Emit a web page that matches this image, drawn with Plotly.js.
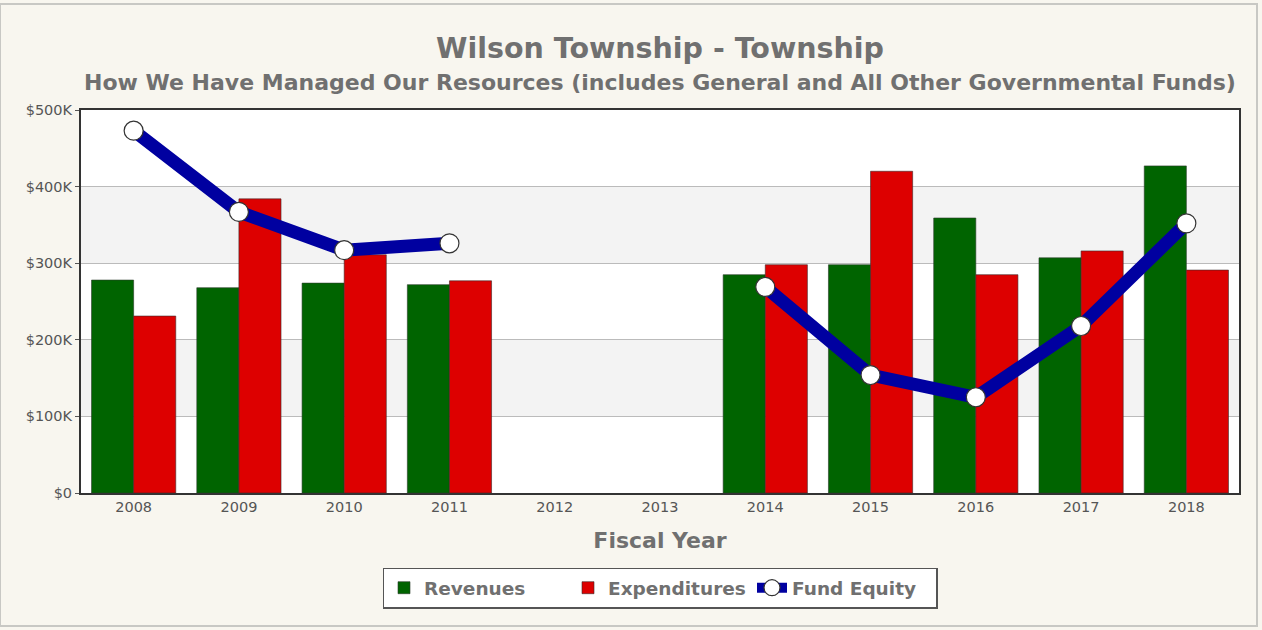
<!DOCTYPE html>
<html>
<head>
<meta charset="utf-8">
<script src="https://cdn.plot.ly/plotly-3.0.1.min.js"></script>
<style>html,body{margin:0;padding:0;background:#f8f6ef;}</style>
</head>
<body>
<div id="chart" style="width:1262px;height:630px;"></div>
<script>
const years = ['2008','2009','2010','2011','2012','2013','2014','2015','2016','2017','2018'];
const revenues = [278000, 268000, 274000, 272000, null, null, 285000, 298000, 359000, 307000, 427000];
const expenditures = [231000, 384000, 311000, 277000, null, null, 298000, 420000, 285000, 316000, 291000];
const fundEquity = [473000, 367000, 317000, 326000, null, null, 269000, 154000, 125000, 218000, 352000];
const tickVals = [0, 100000, 200000, 300000, 400000, 500000];
const tickText = ['$0', '$100K', '$200K', '$300K', '$400K', '$500K'];

const font = 'DejaVu Sans, sans-serif';
const traces = [
  {type:'bar', name:'Revenues', x:years, y:revenues,
   marker:{color:'#006400', line:{color:'#2a3a2a', width:0.6}}},
  {type:'bar', name:'Expenditures', x:years, y:expenditures,
   marker:{color:'#dd0000', line:{color:'#3a2a2a', width:0.6}}},
  {type:'scatter', mode:'lines+markers', name:'Fund Equity', x:years, y:fundEquity,
   connectgaps:false,
   line:{color:'#0000a0', width:13},
   marker:{color:'#ffffff', size:19, line:{color:'#333333', width:1.2}}}
];

const shapes = [
  {type:'rect', xref:'paper', yref:'y', x0:0, x1:1, y0:100000, y1:200000, fillcolor:'#f3f3f3', line:{width:0}, layer:'below'},
  {type:'rect', xref:'paper', yref:'y', x0:0, x1:1, y0:300000, y1:400000, fillcolor:'#f3f3f3', line:{width:0}, layer:'below'},
  {type:'rect', xref:'paper', yref:'paper', x0:-81/1158, x1:(1262-81-5)/1158, y0:(493-626)/383, y1:(493-4)/383,
   fillcolor:'rgba(0,0,0,0)', line:{color:'#c8c8c4', width:2}, layer:'below'}
];

const layout = {
  width:1262, height:630,
  paper_bgcolor:'#f8f6ef', plot_bgcolor:'#ffffff',
  margin:{l:81, r:23, t:110, b:137},
  barmode:'group', bargap:0.2, bargroupgap:0,
  font:{family:font, color:'#666666'},
  showlegend:true,
  legend:{orientation:'h', x:0.5, xanchor:'center', y:-0.195, yanchor:'top',
    bgcolor:'#ffffff', bordercolor:'#555555', borderwidth:1.5,
    font:{family:font, size:18.5, color:'#707070', weight:'bold'},
    itemwidth:30, entrywidth:139, entrywidthmode:'pixels', traceorder:'normal'},
  xaxis:{type:'category', range:[-0.5, 10.5], showline:true, linecolor:'#333333', linewidth:2, mirror:true,
    ticks:'', tickfont:{size:14.5, color:'#555555'},
    title:{text:'Fiscal Year', font:{size:22, color:'#707070', weight:'bold'}, standoff:18},
    showgrid:false, zeroline:false},
  yaxis:{range:[0,500000], tickvals:tickVals, ticktext:tickText,
    showline:true, linecolor:'#333333', linewidth:2, mirror:true,
    ticks:'outside', ticklen:4, tickcolor:'#555555',
    tickfont:{size:14.5, color:'#555555'},
    showgrid:true, gridcolor:'#bbbbbb', gridwidth:1, zeroline:false},
  shapes:shapes,
  annotations:[
    {xref:'paper', yref:'paper', x:0.5, y:(493-48)/383, xanchor:'center', yanchor:'middle', showarrow:false,
     text:'<b>Wilson Township - Township</b>', font:{family:font, size:28.5, color:'#707070'}},
    {xref:'paper', yref:'paper', x:0.5, y:(493-82)/383, xanchor:'center', yanchor:'middle', showarrow:false,
     text:'<b>How We Have Managed Our Resources (includes General and All Other Governmental Funds)</b>', font:{family:font, size:22, color:'#707070'}}
  ]
};

Plotly.newPlot('chart', traces, layout, {displayModeBar:false, staticPlot:true});
</script>
</body>
</html>
